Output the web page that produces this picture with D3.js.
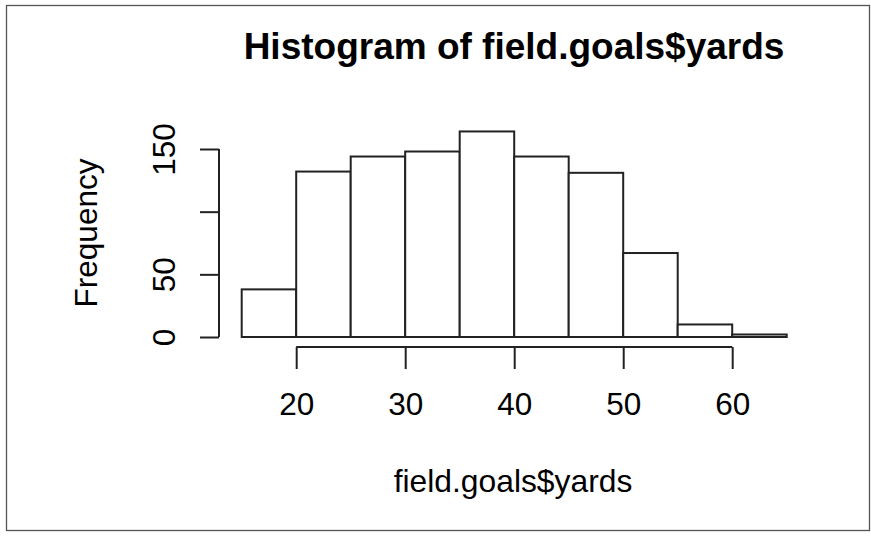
<!DOCTYPE html>
<html>
<head>
<meta charset="utf-8">
<script src="https://cdn.jsdelivr.net/npm/d3@7"></script>
<style>
  html, body { margin: 0; padding: 0; background: #fff; }
  svg { display: block; font-family: "Liberation Sans", Arial, Helvetica, sans-serif; }
</style>
</head>
<body>
<svg id="chart" width="871" height="537"></svg>
<script>
// ---- data ----
const binEdges = [15, 20, 25, 30, 35, 40, 45, 50, 55, 60, 65];
const counts = [38, 132, 144, 148, 164, 144, 131, 67, 10, 2];
const xTicks = [20, 30, 40, 50, 60];
const yTicks = [0, 50, 100, 150];
const yTickLabels = ["0", "50", "", "150"]; // R drops the overlapping "100"
const titleText = "Histogram of field.goals$yards";
const xLabel = "field.goals$yards";
const yLabel = "Frequency";

const svg = d3.select("#chart");

// frame
svg.append("rect").attr("x", 6.5).attr("y", 5.5).attr("width", 863).attr("height", 525)
  .attr("fill", "#fff").attr("stroke", "#555").attr("stroke-width", 1.3);

const x = d3.scaleLinear().domain([15, 65]).range([241.7, 786.7]);
const y = d3.scaleLinear().domain([0, 150]).range([337, 149]);

const bins = counts.map((c, i) => ({ x0: binEdges[i], x1: binEdges[i + 1], n: c }));

svg.append("g").selectAll("rect").data(bins).join("rect")
  .attr("x", d => x(d.x0))
  .attr("y", d => y(d.n))
  .attr("width", d => x(d.x1) - x(d.x0))
  .attr("height", d => y(0) - y(d.n))
  .attr("fill", "#fff")
  .attr("stroke", "#222")
  .attr("stroke-width", 2);

// x axis
const xAxis = svg.append("g").attr("transform", "translate(0,347)")
  .call(d3.axisBottom(x).tickValues(xTicks).tickSize(22).tickSizeOuter(0).tickPadding(0).tickFormat(d3.format("d")));
xAxis.select(".domain").attr("d", `M${x(20)},0H${x(60)}`).attr("stroke", "#222").attr("stroke-width", 2);
xAxis.selectAll(".tick line").attr("stroke", "#222").attr("stroke-width", 2);
xAxis.selectAll(".tick text").attr("y", 68).attr("dy", null).attr("font-size", 31.5)
  .attr("fill", "#000").attr("font-family", "Liberation Sans, Arial, sans-serif");

// y axis
const yAxis = svg.append("g").attr("transform", "translate(219,0)")
  .call(d3.axisLeft(y).tickValues(yTicks).tickSize(19).tickSizeOuter(0)
    .tickFormat((d, i) => yTickLabels[i]));
yAxis.select(".domain").attr("d", `M0,${y(0)}V${y(150)}`).attr("stroke", "#222").attr("stroke-width", 2);
yAxis.selectAll(".tick line").attr("stroke", "#222").attr("stroke-width", 2);
yAxis.selectAll(".tick text")
  .attr("x", null).attr("dy", null)
  .attr("transform", "translate(-44,0) rotate(-90)")
  .attr("text-anchor", "middle")
  .attr("font-size", 31.5).attr("fill", "#000")
  .attr("font-family", "Liberation Sans, Arial, sans-serif");

// title
svg.append("text").attr("x", 514).attr("y", 59).attr("text-anchor", "middle")
  .attr("font-size", 37).attr("font-weight", "bold").attr("fill", "#000").text(titleText);

// x label
svg.append("text").attr("x", 513).attr("y", 492).attr("text-anchor", "middle")
  .attr("font-size", 31.8).attr("fill", "#000").text(xLabel);

// y label
svg.append("text").attr("transform", "translate(97,233) rotate(-90)").attr("text-anchor", "middle")
  .attr("font-size", 31.5).attr("fill", "#000").text(yLabel);
</script>
</body>
</html>
